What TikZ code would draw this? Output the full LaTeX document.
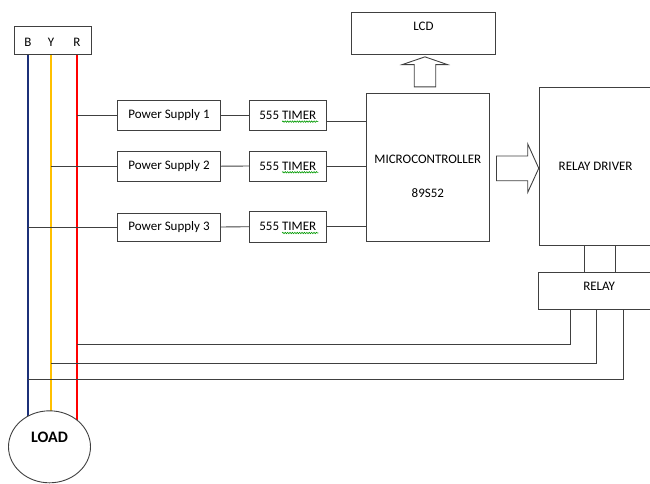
\documentclass[tikz,border=0pt]{standalone}
\usepackage{fontspec}
\setmainfont{Carlito}
\usetikzlibrary{shapes.geometric,positioning,calc,backgrounds,decorations.pathmorphing}

\definecolor{wireblue}{RGB}{28,48,120}
\definecolor{wireyellow}{RGB}{255,192,0}
\definecolor{wirered}{RGB}{255,0,0}
\definecolor{linegray}{RGB}{64,64,64}

\begin{document}
\begin{tikzpicture}[
  x=1pt, y=-1pt,
  box/.style={rectangle, draw=linegray, line width=0.9pt, inner sep=0pt, align=center, font=\fontsize{13}{15.6}\selectfont},
  tag/.style={inner sep=0pt, font=\fontsize{13}{15.6}\selectfont},
  wire/.style={draw=linegray, line width=0.9pt},
  phase/.style={line width=2.3pt},
  squiggle/.style={green!60!black, line width=0.6pt, decorate, decoration={snake, amplitude=0.7pt, segment length=2.4pt}}
]
\useasboundingbox (0,0) rectangle (650,483);
\clip (0,0) rectangle (650,483);

% supply terminals and load
\node[box, minimum width=77pt, minimum height=27.6pt] (byr) at (53.2,40.5) {};
\node[tag] (lb) at (28,42.5) {B};
\node[tag] (ly) at (51,42.5) {Y};
\node[tag] (lr) at (77,42.5) {R};
\node[ellipse, draw=linegray, line width=0.9pt, fill=white, minimum width=82pt, minimum height=72pt, inner sep=0pt,
  label={[yshift=10pt, font=\bfseries\fontsize{16}{19}\selectfont]center:LOAD}] (load) at (49.5,446.8) {};

\begin{scope}[on background layer]
  \draw[phase, wireblue] (lb |- byr.south) -- (lb |- load.center);
  \draw[phase, wireyellow] (ly |- byr.south) -- (ly |- load.center);
  \draw[phase, wirered] (lr |- byr.south) -- (lr |- load.center);
\end{scope}

% supplies and timers
\node[box, minimum width=102.6pt, minimum height=30.5pt] (ps1) at (169,115.3) {Power Supply 1};
\node[box, minimum width=102.6pt, minimum height=30.3pt] (ps2) at (169,166.2) {Power Supply 2};
\node[box, minimum width=102.6pt, minimum height=28pt] (ps3) at (169,227) {Power Supply 3};
\node[box, minimum width=76.5pt, minimum height=29.5pt] (t1) at (287.8,115.3) {555 TIMER};
\node[box, minimum width=76.5pt, minimum height=30pt] (t2) at (287.8,166) {555 TIMER};
\node[box, minimum width=76.5pt, minimum height=30.7pt] (t3) at (287.8,226.7) {555 TIMER};
\foreach \t in {t1,t2,t3}
  \draw[squiggle] ($(\t.center)+(-5.7,6.3)$) -- ($(\t.center)+(30.5,6.3)$);

% controller side
\node[box, minimum width=122.3pt, minimum height=148.3pt,
  label={[yshift=-9pt, align=center, font=\fontsize{13}{15.6}\selectfont]center:MICROCONTROLLER\\[18pt]89S52}] (mcu) at (427.85,167.15) {};
\node[box, minimum width=143.6pt, minimum height=41.7pt,
  label={[yshift=7pt, font=\fontsize{13}{15.6}\selectfont]center:LCD}] (lcd) at (423.5,33.2) {};
\node[box, minimum width=112.7pt, minimum height=158pt] (rd) at (595.65,166.3) {RELAY DRIVER};
\node[box, minimum width=121.7pt, minimum height=36.3pt,
  label={[yshift=5pt, font=\fontsize{13}{15.6}\selectfont]center:RELAY}] (relay) at (599.15,290.85) {};

% connections
\draw[wire] (ps1.west) -- (ps1.west -| lr);
\draw[wire] (ps2.west) -- (ps2.west -| ly);
\draw[wire] (ps3.west) -- (ps3.west -| lb);
\draw[wire] (ps1.east) -- (t1.west);
\draw[wire] (ps2.east) -- (t2.west);
\draw[wire] (ps3.east) -- (t3.west);
\draw[wire] ([yshift=-6.4pt]t1.east) -- ([yshift=-6.4pt]t1.east -| mcu.west);
\draw[wire] (t2.east) -- (t2.east -| mcu.west);
\draw[wire] (t3.east) -- (t3.east -| mcu.west);

% block arrows
\draw[wire] ($(mcu.north)+(-13.6,-5.7)$) -- ++(0,-22.3) -- ++(-11.9,0) -- ++(22.6,-7.7)
  -- ++(22.4,7.7) -- ++(-11.6,0) -- ++(0,22.3) -- cycle;
\draw[wire] ($(mcu.east)+(7,-11.15)$) -- ++(31.3,0) -- ++(0,-12) -- ++(11,24.3)
  -- ++(-11,24) -- ++(0,-11.6) -- ++(-31.3,0) -- cycle;

% relay driver to relay, relay back to the phases
\draw[wire] ([xshift=-14.8pt]relay.north) -- ([xshift=-14.8pt]relay.north |- rd.south);
\draw[wire] ([xshift=15.9pt]relay.north) -- ([xshift=15.9pt]relay.north |- rd.south);
\draw[wire] ([xshift=-28.5pt]relay.south) |- ($(relay.south -| lr)+(0,35)$);
\draw[wire] ([xshift=-3.2pt]relay.south) |- ($(relay.south -| ly)+(0,54)$);
\draw[wire] ([xshift=24.2pt]relay.south) |- ($(relay.south -| lb)+(0,70)$);

\end{tikzpicture}
\end{document}
